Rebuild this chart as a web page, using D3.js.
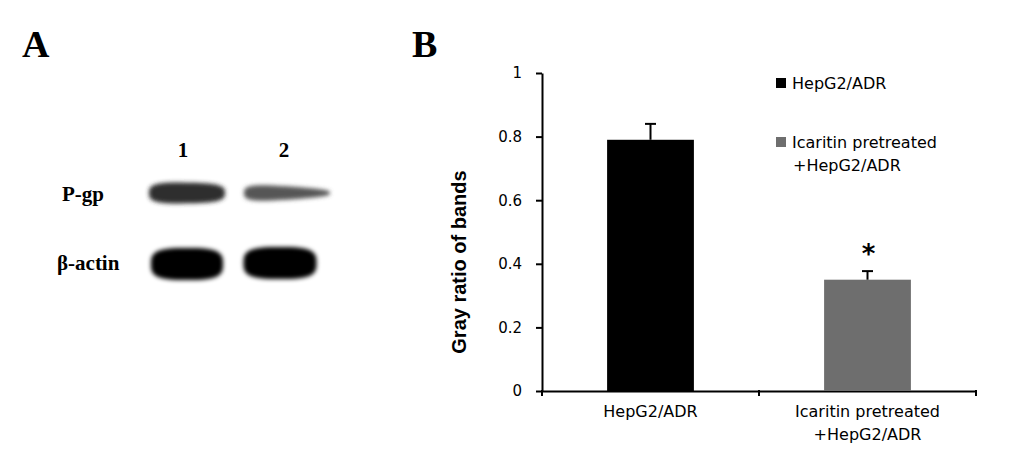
<!DOCTYPE html>
<html>
<head>
<meta charset="utf-8">
<script src="https://cdn.jsdelivr.net/npm/d3@7"></script>
<style>
  html, body { margin: 0; padding: 0; background: #fff; }
  svg { display: block; }
</style>
</head>
<body>
<svg id="fig" width="1033" height="463"></svg>
<script>
// ---------- DATA ----------
// Panel A: western blot
const lanes = ["1", "2"];
const blotRows = ["P-gp", "β-actin"];
// relative band density (0 = blank, 1 = saturated), per lane
const pgpDensity = [0.82, 0.66];
const actinDensity = [1.0, 1.0];

// Panel B: bar chart
const categories = ["HepG2/ADR", "Icaritin pretreated\n+HepG2/ADR"];
const legendLabels = ["HepG2/ADR", "Icaritin pretreated\n+HepG2/ADR"];
const grayRatio = [0.79, 0.35];
const grayRatioErr = [0.05, 0.027];
const significance = ["", "*"];
const yTicks = [0, 0.2, 0.4, 0.6, 0.8, 1];

// ---------- STYLE ----------
const barColors = ["#000000", "#6e6e6e"];
const serif = "'Liberation Serif', 'Times New Roman', serif";
const sans = "'DejaVu Sans', Verdana, sans-serif";
const arial = "'Liberation Sans', Arial, sans-serif";

const svg = d3.select("#fig");

// ---------- Panel letters ----------
svg.append("text").attr("x", 22).attr("y", 57)
  .attr("font-family", serif).attr("font-weight", "bold").attr("font-size", 38).text("A");
svg.append("text").attr("x", 412).attr("y", 57)
  .attr("font-family", serif).attr("font-weight", "bold").attr("font-size", 38).text("B");

// ---------- Panel A: blot ----------
const defs = svg.append("defs");
const blur = defs.append("filter").attr("id", "bandBlur")
  .attr("x", "-30%").attr("y", "-60%").attr("width", "160%").attr("height", "220%");
blur.append("feGaussianBlur").attr("stdDeviation", 2.0);

const laneX = d3.scaleBand().domain(lanes).range([139, 335]);
const rowY = d3.scalePoint().domain(blotRows).range([193, 264]);
const shade = d3.scaleLinear().domain([0, 1]).range(["#ffffff", "#000000"]);

// shape styles per band (width, height, taper, shift)
const bandShape = {
  "P-gp":   [{w: 76, h: 22, taper: 0.12, dx: -1, dy: 0}, {w: 86, h: 19, taper: 0.6, dx: 1, dy: 0}],
  "β-actin":[{w: 72, h: 32, taper: 0.0, dx: -1, dy: 0}, {w: 73, h: 32, taper: 0.0, dx: -6, dy: -1}]
};

function bandPath(cx, cy, w, h, taper) {
  const pts = [];
  const N = 60, n = 3.2;
  const a = w / 2;
  for (let i = 0; i <= N; i++) {
    const t = Math.PI * i / N;
    const c = Math.cos(t), s = Math.sin(t);
    const x = a * Math.sign(c) * Math.pow(Math.abs(c), 2 / n);
    const px = cx - x;
    const frac = (px - (cx - a)) / (2 * a);
    const b = h / 2 * (1 - taper * frac);
    pts.push([px, cy - b * Math.pow(Math.abs(s), 2 / n)]);
  }
  for (let i = 0; i <= N; i++) {
    const t = Math.PI * i / N;
    const c = Math.cos(t), s = Math.sin(t);
    const x = a * Math.sign(c) * Math.pow(Math.abs(c), 2 / n);
    const px = cx + x;
    const frac = (px - (cx - a)) / (2 * a);
    const b = h / 2 * (1 - taper * frac);
    pts.push([px, cy + b * Math.pow(Math.abs(s), 2 / n)]);
  }
  return d3.line().curve(d3.curveLinearClosed)(pts);
}

const densities = {"P-gp": pgpDensity, "β-actin": actinDensity};
const bandData = [];
blotRows.forEach(r => lanes.forEach((l, i) => bandData.push({row: r, lane: l, li: i, v: densities[r][i]})));

svg.append("g").selectAll("path").data(bandData).join("path")
  .attr("d", d => {
    const st = bandShape[d.row][d.li];
    return bandPath(laneX(d.lane) + laneX.bandwidth() / 2 + st.dx, rowY(d.row) + st.dy, st.w, st.h, st.taper);
  })
  .attr("fill", d => shade(d.v))
  .attr("filter", "url(#bandBlur)");

// lane numbers
svg.append("g").selectAll("text").data(lanes).join("text")
  .attr("x", d => laneX(d) + laneX.bandwidth() / 2 - (d === "1" ? 5 : 2))
  .attr("y", 157)
  .attr("text-anchor", "middle")
  .attr("font-family", serif).attr("font-weight", "bold").attr("font-size", 21)
  .text(d => d);

// row labels
const rowLabelX = {"P-gp": 62, "β-actin": 57};
const rowLabelDy = {"P-gp": 8, "β-actin": 6};
svg.append("g").selectAll("text").data(blotRows).join("text")
  .attr("x", d => rowLabelX[d])
  .attr("y", d => rowY(d) + rowLabelDy[d])
  .attr("font-family", serif).attr("font-weight", "bold").attr("font-size", 21)
  .text(d => d);

// ---------- Panel B: bar chart ----------
const x = d3.scaleBand().domain(categories).range([542, 976]).paddingInner(0.6).paddingOuter(0.3);
const y = d3.scaleLinear().domain([0, 1]).range([391, 73]);

// Y axis
const yAxis = svg.append("g").attr("transform", "translate(542,0)")
  .call(d3.axisLeft(y).tickValues(yTicks).tickFormat(d3.format("")).tickSize(6).tickSizeOuter(0).tickPadding(14));
yAxis.select(".domain").attr("stroke-width", 2);
yAxis.selectAll(".tick line").attr("stroke-width", 2);
yAxis.selectAll("text").attr("font-family", sans).attr("font-size", 15).attr("fill", "#000");

// X axis
const xAxis = svg.append("g").attr("transform", "translate(0,391)")
  .call(d3.axisBottom(x).tickSize(0).tickSizeOuter(0).tickPadding(26));
xAxis.select(".domain").attr("stroke-width", 2);
xAxis.selectAll(".tick text")
  .attr("font-family", sans).attr("font-size", 16).attr("fill", "#000")
  .each(function(d) {
    const t = d3.select(this);
    const lines = d.split("\n");
    t.text(null);
    lines.forEach((ln, i) => t.append("tspan").attr("x", 0).attr("dy", i === 0 ? 0 : "1.45em").text(ln));
  });
// boundary tick marks
const boundaries = [x.range()[0], ...categories.slice(1).map(c => x(c) - x.step() * x.paddingInner() / 2), x.range()[1]];
svg.append("g").selectAll("line").data(boundaries).join("line")
  .attr("x1", d => d).attr("x2", d => d).attr("y1", 390).attr("y2", 396)
  .attr("stroke", "#000").attr("stroke-width", 2);

// bars
svg.append("g").selectAll("rect").data(categories).join("rect")
  .attr("x", d => x(d))
  .attr("y", (d, i) => y(grayRatio[i]))
  .attr("width", x.bandwidth())
  .attr("height", (d, i) => y(0) - y(grayRatio[i]))
  .attr("fill", (d, i) => barColors[i]);

// error bars
const eb = svg.append("g").attr("stroke", "#000").attr("stroke-width", 2);
eb.selectAll("line.stem").data(categories).join("line").attr("class", "stem")
  .attr("x1", d => x(d) + x.bandwidth() / 2).attr("x2", d => x(d) + x.bandwidth() / 2)
  .attr("y1", (d, i) => y(grayRatio[i])).attr("y2", (d, i) => y(grayRatio[i] + grayRatioErr[i]));
eb.selectAll("line.cap").data(categories).join("line").attr("class", "cap")
  .attr("x1", d => x(d) + x.bandwidth() / 2 - 5.5).attr("x2", d => x(d) + x.bandwidth() / 2 + 5.5)
  .attr("y1", (d, i) => y(grayRatio[i] + grayRatioErr[i])).attr("y2", (d, i) => y(grayRatio[i] + grayRatioErr[i]));

// significance marks
svg.append("g").selectAll("text").data(categories).join("text")
  .attr("x", d => x(d) + x.bandwidth() / 2 + 1)
  .attr("y", (d, i) => y(grayRatio[i] + grayRatioErr[i]) - 8)
  .attr("text-anchor", "middle")
  .attr("font-family", sans).attr("font-weight", "bold").attr("font-size", 26).attr("fill", "#000")
  .text((d, i) => significance[i]);

// Y axis title
svg.append("text")
  .attr("transform", "translate(466,262) rotate(-90)")
  .attr("text-anchor", "middle")
  .attr("font-family", arial).attr("font-weight", "bold").attr("font-size", 20)
  .text("Gray ratio of bands");

// legend
const legendY = d3.scalePoint().domain(legendLabels).range([83, 142]);
const lg = svg.append("g").selectAll("g").data(legendLabels).join("g")
  .attr("transform", d => `translate(776,${legendY(d)})`);
lg.append("rect").attr("x", 0).attr("y", -5).attr("width", 10).attr("height", 10)
  .attr("fill", (d, i) => barColors[i]);
lg.append("text").attr("x", 16).attr("y", 6)
  .attr("font-family", sans).attr("font-size", 16).attr("fill", "#000")
  .each(function(d) {
    const t = d3.select(this);
    d.split("\n").forEach((ln, i) => t.append("tspan").attr("x", i === 0 ? 16 : 17).attr("dy", i === 0 ? 0 : "1.42em").text(ln));
  });
</script>
</body>
</html>
